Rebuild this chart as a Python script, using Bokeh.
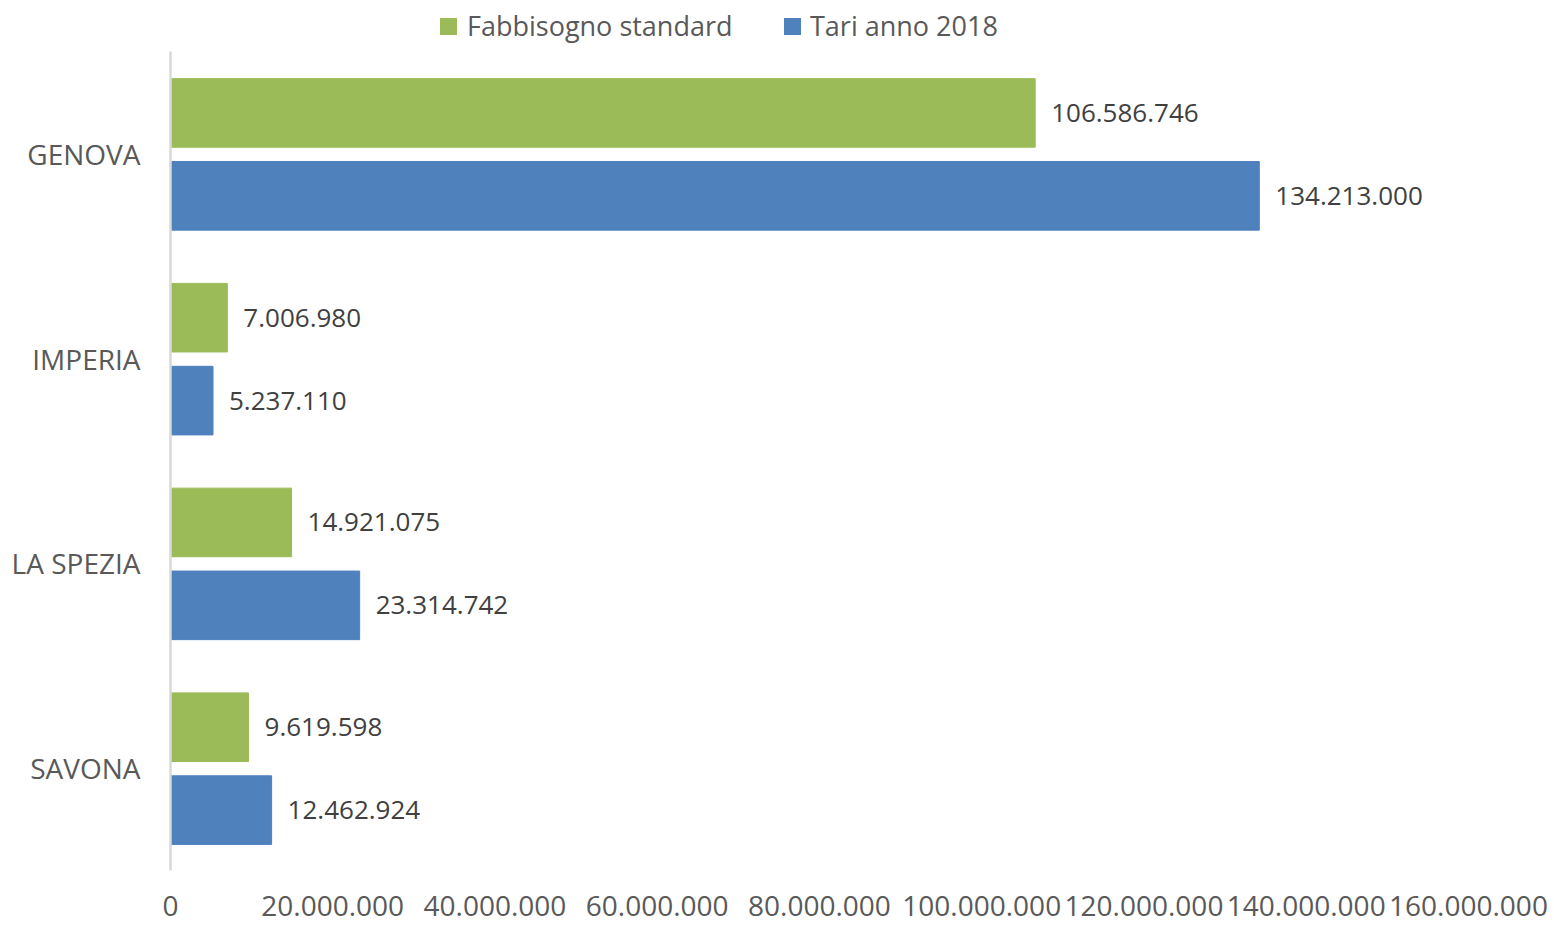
from bokeh.plotting import figure
from bokeh.models import ColumnDataSource, FactorRange, Range1d, FixedTicker, Div
from bokeh.layouts import column
from bokeh.transform import dodge
from bokeh.core.properties import value
from bokeh.embed import file_html
from bokeh.resources import INLINE

# ---- data ----
cities = ["GENOVA", "IMPERIA", "LA SPEZIA", "SAVONA"]
fabbisogno = [106586746, 7006980, 14921075, 9619598]
tari_2018 = [134213000, 5237110, 23314742, 12462924]
series_names = ["Fabbisogno standard", "Tari anno 2018"]
x_ticks = [0, 20000000, 40000000, 60000000, 80000000, 100000000, 120000000, 140000000, 160000000]
x_tick_labels = ["0", "20.000.000", "40.000.000", "60.000.000", "80.000.000",
                 "100.000.000", "120.000.000", "140.000.000", "160.000.000"]

GREEN = "#9BBB59"
BLUE = "#4F81BD"
FONT = "Open Sans"
series_colors = [GREEN, BLUE]


def fmt(v):
    return f"{v:,}".replace(",", ".")


src = ColumnDataSource(dict(
    city=cities,
    fab=fabbisogno,
    tari=tari_2018,
    fab_lbl=[fmt(v) for v in fabbisogno],
    tari_lbl=[fmt(v) for v in tari_2018],
))

p = figure(
    width=1550, height=882,
    y_range=FactorRange(factors=list(reversed(cities))),
    x_range=Range1d(0, 160000000),
    output_backend="svg", toolbar_location=None,
    min_border_left=170, min_border_right=82, min_border_top=8, min_border_bottom=55,
)
p.outline_line_color = None
p.xgrid.visible = False
p.ygrid.visible = False
p.background_fill_color = "white"
p.border_fill_color = "white"

p.hbar(y=dodge("city", 0.2, range=p.y_range), right="fab", left=0, height=0.335,
       source=src, fill_color=GREEN, line_color=GREEN)
p.hbar(y=dodge("city", -0.205, range=p.y_range), right="tari", left=0, height=0.335,
       source=src, fill_color=BLUE, line_color=BLUE)

p.text(x="fab", y=dodge("city", 0.2, range=p.y_range), text="fab_lbl", source=src,
       x_offset=16, text_baseline="middle", text_align="left",
       text_font=value(FONT), text_font_size="26px", text_color="#404040")
p.text(x="tari", y=dodge("city", -0.205, range=p.y_range), text="tari_lbl", source=src,
       x_offset=16, text_baseline="middle", text_align="left",
       text_font=value(FONT), text_font_size="26px", text_color="#404040")

# x axis
xa = p.xaxis[0]
xa.ticker = FixedTicker(ticks=x_ticks)
xa.major_label_overrides = {t: l for t, l in zip(x_ticks, x_tick_labels)}
xa.axis_line_color = None
xa.major_tick_line_color = None
xa.major_tick_out = 0
xa.major_tick_in = 0
xa.minor_tick_line_color = None
xa.major_label_text_font = FONT
xa.major_label_text_font_size = "28px"
xa.major_label_text_color = "#595959"
xa.major_label_standoff = 25

# y axis
ya = p.yaxis[0]
ya.axis_line_color = "#D9D9D9"
ya.axis_line_width = 2.5
ya.major_tick_line_color = None
ya.major_tick_out = 0
ya.major_tick_in = 0
ya.minor_tick_line_color = None
ya.major_label_text_font = FONT
ya.major_label_text_font_size = "28px"
ya.major_label_text_color = "#595959"
ya.major_label_standoff = 30

# legend (above the plot frame)
sq_left = [440, 784]
txt_left = [467, 810]
parts = []
for name, col, sl, tl in zip(series_names, series_colors, sq_left, txt_left):
    parts.append(
        f'<span style="position:absolute;left:{sl}px;top:18px;width:17px;height:17px;'
        f'background:{col};"></span>'
        f'<span style="position:absolute;left:{tl}px;top:7px;line-height:38px;'
        f'white-space:nowrap;">{name}</span>'
    )
legend_div = Div(
    text=("<div style=\"position:relative;width:1550px;height:43px;"
          f"font-family:'{FONT}';font-size:27px;color:#595959;\">" + "".join(parts) + "</div>"),
    width=1550, height=43, margin=(0, 0, 0, 0),
)

layout = column(legend_div, p, spacing=0)
open("out.html", "w").write(file_html(layout, INLINE))
